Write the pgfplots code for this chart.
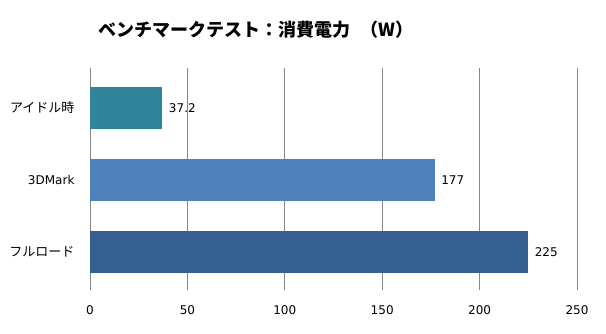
\documentclass[border=0pt]{standalone}
\usepackage{fontspec}
\setmainfont{DejaVu Sans}
\newfontfamily\cjk{Noto Sans CJK JP}
\usepackage{pgfplots}
\pgfplotsset{compat=1.18}
\definecolor{cidle}{RGB}{49,133,155}
\definecolor{c3d}{RGB}{79,129,189}
\definecolor{cfull}{RGB}{55,96,146}
\definecolor{gridc}{RGB}{134,134,134}
\begin{document}
\begin{tikzpicture}
\begin{axis}[
  name=ax,
  scale only axis,
  width=487pt, height=222pt,
  xbar, bar shift=0pt, bar width=0.58,
  xmin=0, xmax=250,
  ymin=-0.55, ymax=2.53,
  y dir=reverse,
  ytick={0,1,2},
  yticklabels={{\cjk\fontsize{13}{15}\selectfont アイドル時},{3DMark},{\cjk\fontsize{13}{15}\selectfont フルロード}},
  xtick={0,50,100,150,200,250},
  xmajorgrids,
  grid style={gridc, line width=0.8pt},
  major tick length=0pt,
  axis line style={draw=none},
  tick label style={font=\fontsize{12}{14}\selectfont, text=black},
  yticklabel style={xshift=-12pt},
  xticklabel style={yshift=-12pt},
  /pgf/number format/assume math mode=true,
  nodes near coords,
  nodes near coords style={font=\fontsize{12}{14}\selectfont, text=black, anchor=west, xshift=3pt},
  point meta=explicit symbolic,
  clip=false,
]
\addplot[draw=none, fill=cidle] coordinates {(37.2,0) [37.2]};
\addplot[draw=none, fill=c3d] coordinates {(177,1) [177]};
\addplot[draw=none, fill=cfull] coordinates {(225,2) [225]};
\end{axis}
\pgfresetboundingbox
\path ([xshift=-90pt,yshift=-43pt]ax.south west) rectangle ([xshift=29pt,yshift=68pt]ax.north east);
\node[font=\cjk\bfseries\fontsize{18}{20}\selectfont, anchor=center] at ([xshift=166pt,yshift=38pt]ax.north west) {ベンチマークテスト：消費電力\hspace{0.6em}（W）};
\end{tikzpicture}
\end{document}
